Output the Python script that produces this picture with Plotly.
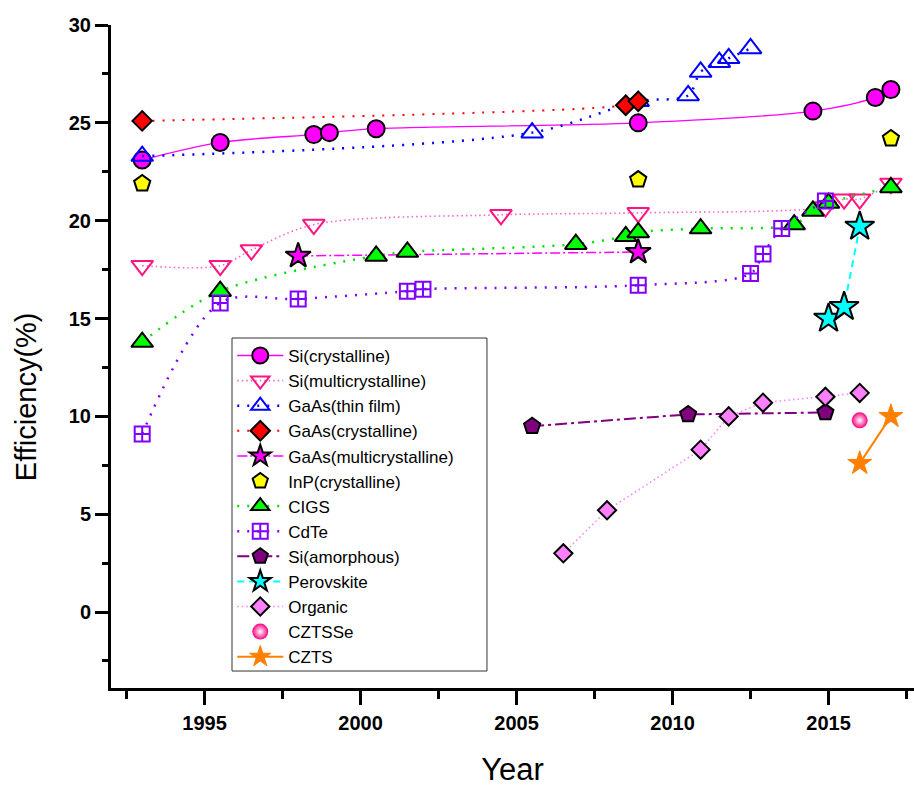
import plotly.graph_objects as go

# ---- data ----
si_c_year = [1993, 1995.5, 1998.5, 1999, 2000.5, 2008.9, 2014.5, 2016.5, 2017]
si_c_eff = [23.1, 24.0, 24.4, 24.5, 24.7, 25.0, 25.6, 26.3, 26.7]

si_m_year = [1993, 1995.5, 1996.5, 1998.5, 2004.5, 2008.9, 2014.9, 2015.5, 2016, 2017]
si_m_eff = [17.7, 17.7, 18.5, 19.8, 20.3, 20.4, 20.7, 21.1, 21.1, 21.9]

gaas_t_year = [1993, 2005.5, 2008.9, 2010.5, 2010.9, 2011.5, 2011.8, 2012.5]
gaas_t_eff = [23.3, 24.5, 26.1, 26.4, 27.6, 28.1, 28.3, 28.8]

gaas_c_year = [1993, 2008.5, 2008.9]
gaas_c_eff = [25.1, 25.9, 26.1]

gaas_m_year = [1998, 2008.9]
gaas_m_eff = [18.2, 18.4]

inp_year = [1993, 2008.9, 2017]
inp_eff = [21.9, 22.1, 24.2]

cigs_year = [1993, 1995.5, 2000.5, 2001.5, 2006.9, 2008.5, 2008.9, 2010.9, 2013.9, 2014.5, 2015, 2017]
cigs_eff = [13.8, 16.4, 18.2, 18.4, 18.8, 19.2, 19.4, 19.6, 19.8, 20.5, 20.9, 21.7]

cdte_year = [1993, 1995.5, 1998, 2001.5, 2002, 2008.9, 2012.5, 2012.9, 2013.5, 2014.9]
cdte_eff = [9.1, 15.8, 16.0, 16.4, 16.5, 16.7, 17.3, 18.3, 19.6, 21.0]

si_a_year = [2005.5, 2010.5, 2014.9]
si_a_eff = [9.5, 10.1, 10.2]

perov_year = [2015, 2015.5, 2016]
perov_eff = [15.0, 15.6, 19.7]

org_year = [2006.5, 2007.9, 2010.9, 2011.8, 2012.9, 2014.9, 2016]
org_eff = [3.0, 5.2, 8.3, 10.0, 10.7, 11.0, 11.2]

cztsse_year = [2016]
cztsse_eff = [9.8]

czts_year = [2016, 2017]
czts_eff = [7.6, 10.0]

x_range = [1992, 2017.74]
y_range = [-3.88, 30]

FONT = "Liberation Sans, Arial, sans-serif"
SPARSE = "2px,8px"
DENSE = "1.5px,3px"

fig = go.Figure()


def add(name, x, y, symbol, size, color, lcolor=None, mline="black",
        mlw=2, dash=None, lw=1.5, shape="linear", mode="lines+markers", gradient=None):
    marker = dict(symbol=symbol, size=size, color=color,
                  line=dict(color=mline, width=mlw))
    if gradient:
        marker["gradient"] = gradient
    fig.add_trace(go.Scatter(
        x=x, y=y, name=name, mode=mode,
        line=dict(color=lcolor or color, width=lw, dash=dash, shape=shape, smoothing=0.9),
        marker=marker))


add("Si(crystalline)", si_c_year, si_c_eff, "circle", 17, "#FF00FF",
    lcolor="#FF00FF", dash="solid", lw=1.3, shape="spline")
add("Si(multicrystalline)", si_m_year, si_m_eff, "triangle-down-open", 19, "#FF1480",
    lcolor="#FF66C4", mline="#FF1480", mlw=2, dash=DENSE, lw=1.6, shape="spline")
add("GaAs(thin film)", gaas_t_year, gaas_t_eff, "triangle-up-open", 19, "#0000FF",
    lcolor="#0000FF", mline="#0000FF", mlw=2, dash=SPARSE, lw=2.5, shape="spline")
add("GaAs(crystalline)", gaas_c_year, gaas_c_eff, "diamond", 15, "#FF0000",
    lcolor="#FF0000", dash=SPARSE, lw=2, shape="spline")
add("GaAs(multicrystalline)", gaas_m_year, gaas_m_eff, "star", 19, "#FF00FF",
    lcolor="#FF00FF", dash="10px,3px,2px,3px", lw=1.5)
add("InP(crystalline)", inp_year, inp_eff, "pentagon", 17, "#FFFF00", mode="markers")
add("CIGS", cigs_year, cigs_eff, "triangle-up", 19, "#00FF00",
    lcolor="#00E000", dash=SPARSE, lw=2.5, shape="spline")
add("CdTe", cdte_year, cdte_eff, "square-cross-open", 15, "#8000FF",
    lcolor="#8000FF", mline="#8000FF", mlw=2, dash=SPARSE, lw=2.5, shape="spline")
add("Si(amorphous)", si_a_year, si_a_eff, "pentagon", 17, "#800080",
    lcolor="#800080", dash="12px,4px,3px,4px", lw=2)
add("Perovskite", perov_year, perov_eff, "star", 22, "#00FFFF",
    lcolor="#00FFFF", dash="7px,5px", lw=2)
add("Organic", org_year, org_eff, "diamond", 14, "#FF80FF",
    lcolor="#FF80FF", dash=DENSE, lw=1.6)
add("CZTSSe", cztsse_year, cztsse_eff, "circle", 16, "#FF0080", mlw=0,
    mode="markers", gradient=dict(type="radial", color="#FFFFFF"))
add("CZTS", czts_year, czts_eff, "star", 18, "#FF8000", lcolor="#FF8000",
    mline="#FF8000", mlw=1, dash="solid", lw=2)

axis_common = dict(showgrid=False, zeroline=False, showline=True, linecolor="black",
                   linewidth=3, tickcolor="black", tickwidth=2.5)

fig.update_layout(
    width=914, height=787,
    margin=dict(l=111, r=0, t=25, b=99),
    paper_bgcolor="white", plot_bgcolor="white",
    font=dict(family=FONT, color="black"),
    showlegend=True,
    legend=dict(x=0.151, y=0.528, xanchor="left", yanchor="top",
                bgcolor="rgba(0,0,0,0)", borderwidth=0,
                font=dict(family=FONT, size=17, color="black"),
                itemwidth=46, tracegroupgap=0),
    # legend frame drawn as a box behind the legend entries
    shapes=[dict(type="rect", xref="paper", yref="paper",
                 x0=0.1507, x1=0.4682, y0=0.0256, y1=0.5279,
                 fillcolor="white", line=dict(color="#333333", width=1),
                 layer="above")],
    xaxis=dict(range=x_range, ticks="outside", ticklen=14, tick0=1995, dtick=5,
               tickfont=dict(family=FONT, size=20, weight="bold"),
               ticklabelstandoff=1,
               minor=dict(ticks="outside", ticklen=8, tick0=1992.5, dtick=2.5,
                          tickcolor="black", tickwidth=2.5),
               title=dict(text="Year", font=dict(family=FONT, size=31), standoff=27),
               **axis_common),
    yaxis=dict(range=y_range, ticks="outside", ticklen=13, tick0=0, dtick=5,
               tickfont=dict(family=FONT, size=20, weight="bold"),
               minor=dict(ticks="outside", ticklen=6, tick0=0, dtick=2.5,
                          tickcolor="black", tickwidth=2.5),
               **axis_common),
    xaxis2=dict(range=x_range, overlaying="x", side="top", anchor="y",
                ticks="inside", ticklen=12, tick0=1995, dtick=5, showticklabels=False,
                minor=dict(ticks="inside", ticklen=7, tick0=1992.5, dtick=2.5,
                           tickcolor="black", tickwidth=2.5),
                **axis_common),
    yaxis2=dict(range=y_range, overlaying="y", side="right", anchor="x",
                ticks="inside", ticklen=7, tick0=0, dtick=5, showticklabels=False,
                minor=dict(ticks="inside", ticklen=4, tick0=0, dtick=2.5,
                           tickcolor="black", tickwidth=2.5),
                **axis_common),
    annotations=[dict(text="Efficiency(%)", xref="paper", yref="paper",
                      x=-0.106, y=0.44, xanchor="center", yanchor="middle",
                      textangle=-90, showarrow=False,
                      font=dict(family=FONT, size=29, color="black"))],
)

fig.write_html("out.html", config={"displayModeBar": False},
               post_script="document.body.style.margin='0px';")
